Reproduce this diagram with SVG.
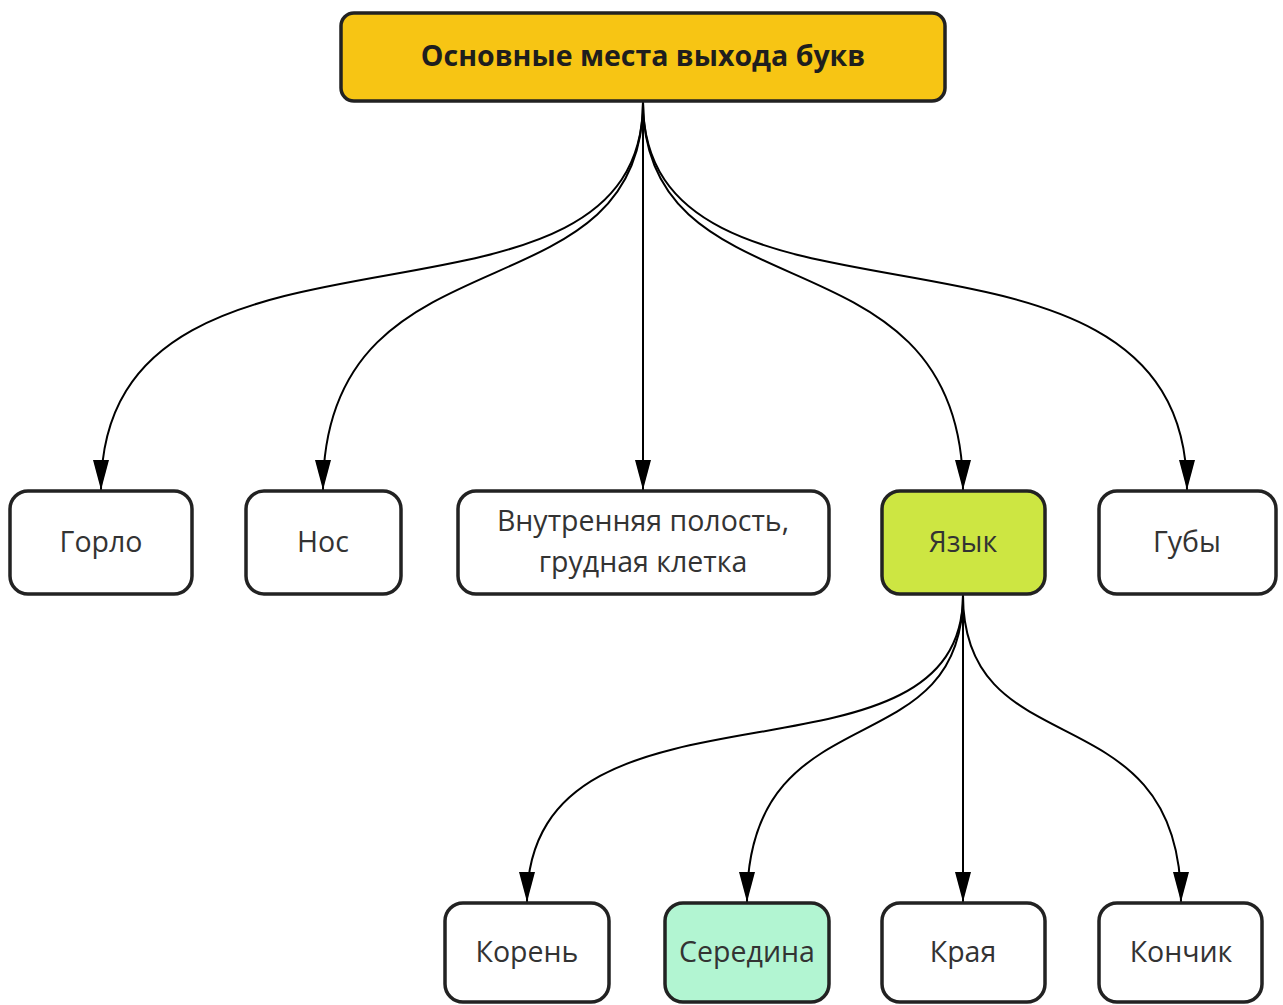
<svg xmlns="http://www.w3.org/2000/svg" width="1283" height="1005" viewBox="0 0 1283 1005">
  <style>
    .box { fill: #ffffff; stroke: #222222; stroke-width: 3.5; }
    .lbl { font-family: "Open Sans", "Noto Sans", "DejaVu Sans", sans-serif; font-size: 28.5px; fill: #333333; text-anchor: middle; dominant-baseline: central; }
    .title { font-family: "Open Sans", "Noto Sans", "DejaVu Sans", sans-serif; font-size: 28.5px; font-weight: bold; fill: #1e1e1e; text-anchor: middle; dominant-baseline: central; }
    .edge { fill: none; stroke: #000000; stroke-width: 2; marker-end: url(#arrow); }
  </style>
  <defs>
    <marker id="arrow" markerUnits="userSpaceOnUse" markerWidth="30" markerHeight="16" viewBox="0 0 30 16" refX="30" refY="8" orient="auto">
      <path d="M0,0 L30,8 L0,16 Z" fill="#000000"/>
    </marker>
  </defs>
  <rect width="1283" height="1005" fill="#ffffff"/>

  <g id="connectors">
    <path class="edge" d="M643,102 C643,369 101,175 101,490"/>
    <path class="edge" d="M643,102 C643,324 323,220 323,490"/>
    <path class="edge" d="M643,102 L643,490"/>
    <path class="edge" d="M643,102 C643,324 963,220 963,490"/>
    <path class="edge" d="M643,102 C643,369 1187,175 1187,490"/>
    <path class="edge" d="M963,595 C963,807 527,653 527,902"/>
    <path class="edge" d="M963,595 C963,771 747,688 747,902"/>
    <path class="edge" d="M963,595 L963,902"/>
    <path class="edge" d="M963,595 C963,771 1181,688 1181,902"/>
  </g>

  <g id="node-root">
    <rect class="box" x="341" y="13" width="604" height="88" rx="13" style="fill:#f7c514"/>
    <text class="title" x="643" y="55">Основные места выхода букв</text>
  </g>
  <g id="node-gorlo">
    <rect class="box" x="10" y="491" width="182" height="103" rx="18"/>
    <text class="lbl" x="101" y="541">Горло</text>
  </g>
  <g id="node-nos">
    <rect class="box" x="246" y="491" width="155" height="103" rx="18"/>
    <text class="lbl" x="323" y="541">Нос</text>
  </g>
  <g id="node-polost">
    <rect class="box" x="458" y="491" width="371" height="103" rx="18"/>
    <text class="lbl" x="643" y="520">Внутренняя полость,</text>
    <text class="lbl" x="643" y="561">грудная клетка</text>
  </g>
  <g id="node-yazyk">
    <rect class="box" x="882" y="491" width="163" height="103" rx="18" style="fill:#cde642"/>
    <text class="lbl" x="963" y="541">Язык</text>
  </g>
  <g id="node-guby">
    <rect class="box" x="1099" y="491" width="177" height="103" rx="18"/>
    <text class="lbl" x="1187" y="541">Губы</text>
  </g>
  <g id="node-koren">
    <rect class="box" x="445" y="903" width="164" height="99" rx="18"/>
    <text class="lbl" x="527" y="951">Корень</text>
  </g>
  <g id="node-seredina">
    <rect class="box" x="665" y="903" width="164" height="99" rx="18" style="fill:#b2f5d2"/>
    <text class="lbl" x="747" y="951">Середина</text>
  </g>
  <g id="node-kraya">
    <rect class="box" x="882" y="903" width="163" height="99" rx="18"/>
    <text class="lbl" x="963" y="951">Края</text>
  </g>
  <g id="node-konchik">
    <rect class="box" x="1099" y="903" width="163" height="99" rx="18"/>
    <text class="lbl" x="1181" y="951">Кончик</text>
  </g>
</svg>
